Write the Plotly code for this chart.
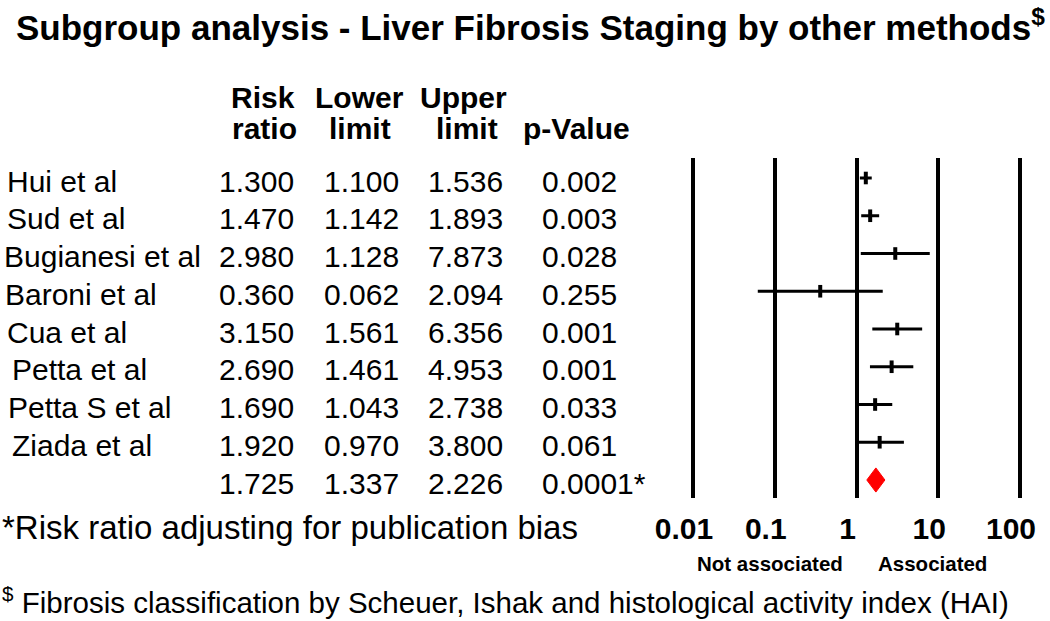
import plotly.graph_objects as go

# ---------------- data ----------------
studies = ["Hui et al", "Sud et al", "Bugianesi et al", "Baroni et al", "Cua et al",
           "Petta et al", "Petta S et al", "Ziada et al"]
risk_ratio = [1.300, 1.470, 2.980, 0.360, 3.150, 2.690, 1.690, 1.920]
lower_limit = [1.100, 1.142, 1.128, 0.062, 1.561, 1.461, 1.043, 0.970]
upper_limit = [1.536, 1.893, 7.873, 2.094, 6.356, 4.953, 2.738, 3.800]
p_values = ["0.002", "0.003", "0.028", "0.255", "0.001", "0.001", "0.033", "0.061"]

summary_rr = 1.725
summary_lower = 1.337
summary_upper = 2.226
summary_p = "0.0001*"

tick_vals = [0.01, 0.1, 1, 10, 100]
tick_text = ["0.01", "0.1", "1", "10", "100"]

# ---------------- layout helpers ----------------
W, H = 1050, 621
PX_PER_DEC = 81.75
X_ONE = 856.5
x_range = [-X_ONE / PX_PER_DEC, (W - X_ONE) / PX_PER_DEC]

ROW0, ROWSTEP = 178, 37.75
PLOT_TOP, PLOT_BOT = 158, 498
y_range = [(PLOT_BOT - ROW0) / ROWSTEP, (PLOT_TOP - ROW0) / ROWSTEP]
y_domain = [1 - PLOT_BOT / H, 1 - PLOT_TOP / H]

FONT = "Liberation Sans, Arial, sans-serif"


def px(x):
    return x / W


def py(y):
    return 1 - y / H


n = len(studies)
rows = list(range(n))
summary_row = n

fig = go.Figure()

# CI lines
ci_x, ci_y = [], []
for lo, hi, r in zip(lower_limit, upper_limit, rows):
    ci_x += [lo, hi, None]
    ci_y += [r, r, None]
fig.add_trace(go.Scatter(x=ci_x, y=ci_y, mode="lines",
                         line=dict(color="black", width=3), hoverinfo="skip",
                         showlegend=False))

# point estimates
fig.add_trace(go.Scatter(x=risk_ratio, y=rows, mode="markers",
                         marker=dict(symbol="line-ns", size=9,
                                     line=dict(color="black", width=4)),
                         showlegend=False))

# summary diamond
dh = 0.32
fig.add_trace(go.Scatter(
    x=[summary_lower, summary_rr, summary_upper, summary_rr, summary_lower],
    y=[summary_row, summary_row - dh, summary_row, summary_row + dh, summary_row],
    mode="lines", fill="toself", fillcolor="#ff0000",
    line=dict(color="#ff0000", width=1), showlegend=False))

annotations = []


def add_text(text, x, y, size, bold=False, xanchor="left", yref="paper", yshift=0):
    annotations.append(dict(
        text=text, x=x, y=y, xref="paper", yref=yref, xanchor=xanchor,
        yanchor="middle", showarrow=False, yshift=yshift,
        font=dict(family=FONT, size=size, color="black",
                  weight="bold" if bold else "normal")))


# title
add_text("Subgroup analysis - Liver Fibrosis Staging by other methods<sup>$</sup>",
         px(14), py(25), 35, bold=True)

# headers
add_text("Risk", px(263), py(97), 30, True, "center")
add_text("ratio", px(264), py(128), 30, True, "center")
add_text("Lower", px(359), py(97), 30, True, "center")
add_text("limit", px(360), py(128), 30, True, "center")
add_text("Upper", px(463), py(97), 30, True, "center")
add_text("limit", px(467), py(128), 30, True, "center")
add_text("p-Value", px(576), py(128), 30, True, "center")

# rows
name_x = [5, 5, 2, 3, 5, 10, 6, 10]
for i in rows:
    add_text(studies[i], px(name_x[i]), i, 30, yref="y", yshift=-3)
    add_text(f"{risk_ratio[i]:.3f}", px(296), i, 30, xanchor="right", yref="y", yshift=-3)
    add_text(f"{lower_limit[i]:.3f}", px(401), i, 30, xanchor="right", yref="y", yshift=-3)
    add_text(f"{upper_limit[i]:.3f}", px(505), i, 30, xanchor="right", yref="y", yshift=-3)
    add_text(p_values[i], px(540), i, 30, yref="y", yshift=-3)

add_text(f"{summary_rr:.3f}", px(296), summary_row, 30, xanchor="right", yref="y", yshift=-3)
add_text(f"{summary_lower:.3f}", px(401), summary_row, 30, xanchor="right", yref="y", yshift=-3)
add_text(f"{summary_upper:.3f}", px(505), summary_row, 30, xanchor="right", yref="y", yshift=-3)
add_text(summary_p, px(540), summary_row, 30, yref="y", yshift=-3)

# footnotes
add_text("*Risk ratio adjusting for publication bias", px(0), py(527), 33)
add_text("<sup>$</sup> Fibrosis classification by Scheuer, Ishak and histological activity index (HAI)",
         px(0), py(600), 29.5)

# association labels
add_text("Not associated", px(770), py(563), 20.5, True, "center")
add_text("Associated", px(932), py(563), 20.5, True, "center")

fig.update_layout(
    width=W, height=H,
    margin=dict(l=0, r=0, t=0, b=0),
    paper_bgcolor="white", plot_bgcolor="white",
    showlegend=False,
    annotations=annotations,
    xaxis=dict(type="log", range=x_range, domain=[0, 1],
               tickvals=tick_vals, ticktext=tick_text,
               showgrid=True, gridcolor="black", gridwidth=4,
               zeroline=False, showline=False, ticks="",
               tickfont=dict(family=FONT, size=30, color="black", weight="bold"),
               ticklabelshift=-9, ticklabelstandoff=10,
               fixedrange=True),
    yaxis=dict(range=y_range, domain=y_domain, showgrid=False, zeroline=False,
               showticklabels=False, showline=False, fixedrange=True),
)

fig.write_html("out.html", config={"displayModeBar": False},
               post_script="document.body.style.margin='0px';document.body.style.overflow='hidden';")
